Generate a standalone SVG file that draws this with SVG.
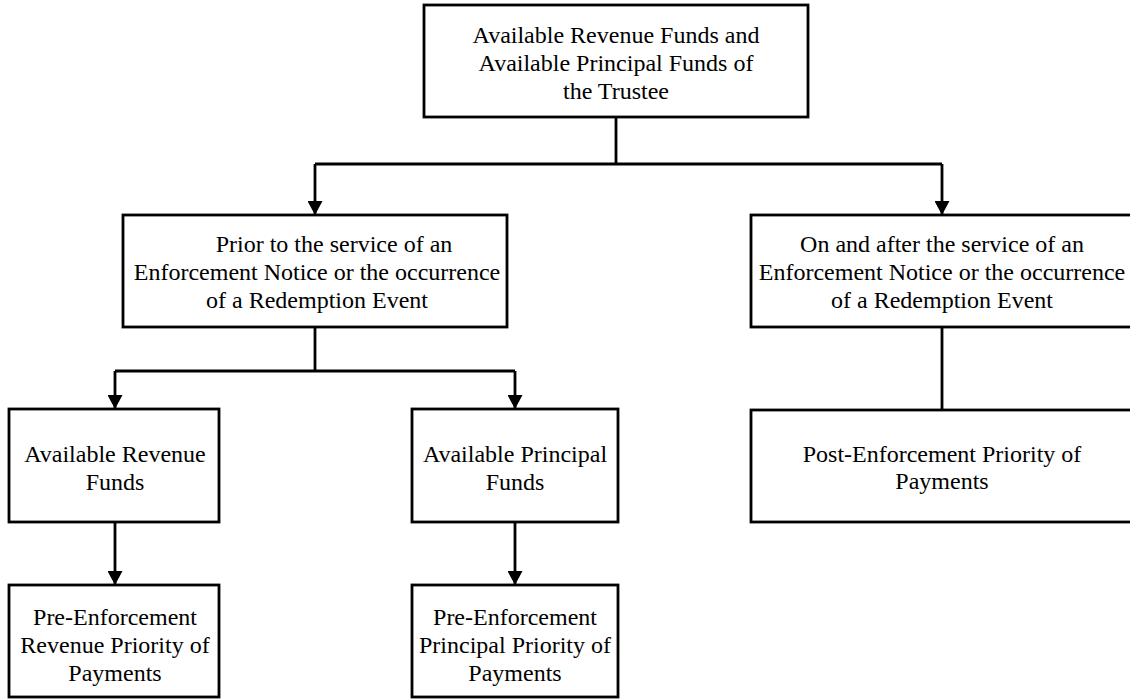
<svg xmlns="http://www.w3.org/2000/svg" width="1130" height="699" viewBox="0 0 1130 699">
<style>
.box{fill:#fff;stroke:#000;stroke-width:2.8}
.t{font-family:"Liberation Serif","Times New Roman",serif;font-size:24px;fill:#000;text-anchor:middle}
.c{fill:none;stroke:#000;stroke-width:2.8}
</style>
<defs>
<marker id="arr" viewBox="0 0 14 15" refX="13" refY="7.5" markerWidth="14" markerHeight="15" markerUnits="userSpaceOnUse" orient="auto">
<path d="M0,0 L14,7.5 L0,15 z" fill="#000"/>
</marker>
</defs>
<rect width="1130" height="699" fill="#fff"/>
<g id="connectors">
<path class="c" d="M616,117 V164"/>
<path class="c" d="M315,164 H942"/>
<path class="c" d="M315,164 V214" marker-end="url(#arr)"/>
<path class="c" d="M942,164 V214" marker-end="url(#arr)"/>
<path class="c" d="M315,327 V371"/>
<path class="c" d="M115,371 H515"/>
<path class="c" d="M115,371 V408" marker-end="url(#arr)"/>
<path class="c" d="M515,371 V408" marker-end="url(#arr)"/>
<path class="c" d="M115,522 V584" marker-end="url(#arr)"/>
<path class="c" d="M515,522 V584" marker-end="url(#arr)"/>
<path class="c" d="M942,327 V410"/>
</g>
<g id="top">
<rect class="box" x="424" y="5" width="384" height="112"/>
<text class="t" x="616" y="43">Available Revenue Funds and</text>
<text class="t" x="616" y="71">Available Principal Funds of</text>
<text class="t" x="616" y="99">the Trustee</text>
</g>
<g id="prior">
<rect class="box" x="123" y="215" width="384" height="112"/>
<text class="t" x="334" y="252">Prior to the service of an</text>
<text class="t" x="317" y="280">Enforcement Notice or the occurrence</text>
<text class="t" x="317" y="308">of a Redemption Event</text>
</g>
<g id="after">
<rect class="box" x="751" y="215" width="384" height="112"/>
<text class="t" x="942" y="252">On and after the service of an</text>
<text class="t" x="942" y="280">Enforcement Notice or the occurrence</text>
<text class="t" x="942" y="308">of a Redemption Event</text>
</g>
<g id="revenue">
<rect class="box" x="9" y="409" width="210" height="113"/>
<text class="t" x="115" y="462">Available Revenue</text>
<text class="t" x="115" y="490">Funds</text>
</g>
<g id="principal">
<rect class="box" x="412" y="409" width="206" height="113"/>
<text class="t" x="515" y="462">Available Principal</text>
<text class="t" x="515" y="490">Funds</text>
</g>
<g id="post">
<rect class="box" x="751" y="410" width="384" height="112"/>
<text class="t" x="942" y="462">Post-Enforcement Priority of</text>
<text class="t" x="942" y="489">Payments</text>
</g>
<g id="pre-revenue">
<rect class="box" x="9" y="585" width="210" height="112"/>
<text class="t" x="115" y="625">Pre-Enforcement</text>
<text class="t" x="115" y="653">Revenue Priority of</text>
<text class="t" x="115" y="681">Payments</text>
</g>
<g id="pre-principal">
<rect class="box" x="412" y="585" width="206" height="112"/>
<text class="t" x="515" y="625">Pre-Enforcement</text>
<text class="t" x="515" y="653">Principal Priority of</text>
<text class="t" x="515" y="681">Payments</text>
</g>
</svg>
